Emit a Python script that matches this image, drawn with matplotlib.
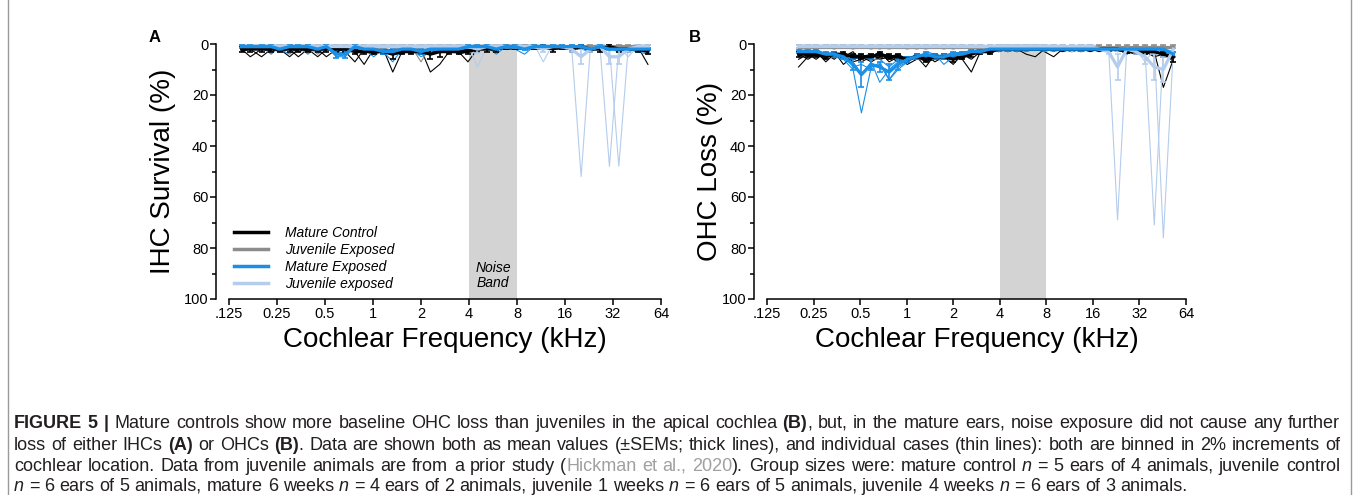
import numpy as np
import matplotlib.pyplot as plt
from matplotlib.lines import Line2D
from matplotlib.font_manager import fontManager, get_font
from matplotlib.backends.backend_agg import get_hinting_flag

plt.rcParams['font.family'] = ['Liberation Sans', 'DejaVu Sans']

# frequency of each 2% bin of cochlear location (kHz)
freq_a = [0.15, 0.17, 0.20, 0.23, 0.26, 0.30, 0.34, 0.39, 0.45, 0.51, 0.59,
          0.67, 0.77, 0.88, 1.01, 1.16, 1.33, 1.52, 1.74, 2.0, 2.29, 2.62,
          3.0, 3.44, 3.94, 4.51, 5.17, 5.93, 6.79, 7.78, 8.92, 10.2, 11.7,
          13.4, 15.4, 17.6, 20.2, 23.1, 26.5, 30.4, 34.8, 39.9, 45.7, 53.0]
freq_b = freq_a[2:]

# ---- A: IHC ----
mc_mean_a = [2, 2, 2, 2, 2, 2, 2, 2, 2, 2, 2, 2, 3, 3, 3, 3, 4, 3, 3, 3, 4, 3,
             3, 3, 3, 2, 2, 2, 1, 1, 1, 1, 1, 2, 1, 2, 1, 2, 2, 1, 2, 2, 2, 3]
mc_sem_a = [1, 1, 1, 1, 1, 1, 1, 1, 1, 1, 1, 1, 1, 1, 1, 1, 2, 1, 1, 1, 2, 2,
            1, 1, 1, 1, 1, 1, 1, 1, 1, 1, 1, 1, 1, 1, 1, 1, 1, 1, 1, 1, 1, 1]
mc_cases_a = [
    [2, 5, 2, 2, 3, 2, 5, 2, 2, 2, 3, 2, 2, 3, 2, 2, 3, 2, 2, 3, 2, 2,
     2, 2, 3, 2, 1, 2, 2, 1, 1, 2, 2, 1, 1, 2, 1, 2, 1, 1, 2, 1, 2, 3],
    [3, 2, 5, 2, 2, 2, 2, 3, 2, 5, 2, 2, 3, 8, 2, 3, 2, 2, 3, 2, 4, 2,
     3, 2, 2, 2, 2, 1, 2, 2, 1, 2, 1, 2, 2, 1, 2, 2, 2, 1, 2, 1, 1, 8],
    [1, 2, 2, 2, 2, 5, 2, 2, 5, 2, 2, 3, 7, 2, 3, 2, 11, 3, 2, 4, 2, 2,
     2, 3, 7, 2, 2, 2, 1, 2, 2, 1, 2, 2, 1, 2, 2, 1, 2, 2, 1, 2, 3, 2],
    [2, 1, 2, 2, 2, 2, 2, 2, 2, 2, 3, 2, 2, 3, 2, 3, 3, 2, 3, 2, 11, 8,
     3, 2, 2, 2, 1, 2, 2, 1, 1, 1, 1, 1, 2, 2, 1, 1, 2, 2, 1, 2, 2, 3],
    [2, 2, 2, 3, 2, 2, 3, 2, 2, 2, 2, 2, 3, 2, 4, 2, 3, 4, 2, 2, 3, 3,
     2, 4, 3, 2, 2, 1, 1, 1, 2, 1, 2, 1, 1, 1, 2, 1, 1, 1, 1, 1, 1, 2],
]
jc_mean_a = [1, 1, 1, 1, 1, 1, 1, 1, 1, 1, 1, 1, 1, 1, 2, 1, 1, 1, 1, 1, 1, 1,
             1, 1, 1, 1, 1, 1, 1, 1, 1, 1, 1, 1, 1, 1, 1, 1, 1, 1, 1, 1, 1, 1]
jc_sem_a = [0.5] * 44
jc_cases_a = [
    [1, 1, 2, 1, 1, 1, 1, 2, 1, 1, 1, 1, 1, 1, 1, 1, 1, 1, 2, 1, 1, 1,
     1, 2, 1, 1, 1, 1, 1, 1, 1, 1, 1, 1, 1, 2, 1, 1, 1, 1, 1, 1, 1, 1],
    [1, 2, 1, 1, 1, 2, 1, 1, 4, 1, 1, 1, 1, 1, 1, 2, 1, 1, 1, 7, 1, 1,
     1, 1, 1, 2, 1, 1, 1, 1, 2, 1, 1, 1, 1, 1, 1, 1, 2, 1, 1, 2, 1, 1],
    [2, 1, 1, 1, 2, 1, 1, 1, 1, 2, 1, 1, 2, 1, 1, 1, 1, 2, 1, 1, 1, 2,
     1, 1, 1, 1, 1, 2, 1, 1, 1, 1, 1, 2, 1, 1, 1, 1, 1, 1, 2, 1, 1, 2],
]
me_mean_a = [1, 1, 1, 1, 2, 1, 1, 1, 2, 1, 4, 4, 1, 2, 2, 3, 3, 2, 2, 3, 2, 2,
             2, 2, 1, 1, 1, 2, 1, 1, 2, 1, 1, 1, 1, 1, 1, 2, 1, 2, 2, 2, 2, 2]
me_sem_a = [0.5, 0.5, 0.5, 0.5, 0.5, 0.5, 0.5, 0.5, 0.5, 0.5, 1.5,
            1.5, 0.5, 0.5, 0.5, 1, 1, 0.5, 0.5, 1, 0.5, 0.5,
            0.5, 0.5, 0.5, 0.5, 0.5, 0.5, 0.5, 0.5, 0.5, 0.5, 0.5,
            0.5, 0.5, 0.5, 0.5, 0.5, 0.5, 0.5, 0.5, 0.5, 0.5, 0.5]
me_cases_a = [
    [1, 1, 1, 4, 1, 1, 1, 4, 1, 1, 5, 4, 1, 2, 2, 3, 7, 2, 2, 3, 2, 1,
     2, 2, 1, 1, 1, 4, 1, 1, 2, 1, 1, 1, 1, 1, 1, 2, 1, 2, 3, 2, 2, 3],
    [2, 1, 1, 1, 2, 4, 1, 1, 2, 1, 5, 5, 1, 2, 5, 2, 4, 2, 4, 2, 2, 3,
     2, 1, 1, 2, 1, 1, 2, 1, 1, 1, 2, 1, 2, 1, 1, 2, 1, 2, 2, 1, 2, 2],
    [1, 2, 1, 1, 3, 1, 1, 2, 2, 1, 4, 3, 2, 2, 2, 3, 3, 2, 2, 5, 3, 2,
     2, 3, 1, 1, 1, 2, 1, 2, 4, 1, 1, 2, 1, 1, 2, 3, 1, 2, 2, 3, 2, 3],
    [1, 1, 2, 1, 2, 1, 2, 1, 3, 2, 3, 4, 2, 1, 3, 2, 3, 3, 2, 3, 2, 2,
     3, 2, 1, 1, 2, 1, 1, 1, 2, 2, 1, 1, 1, 2, 1, 2, 1, 1, 2, 2, 3, 4],
]
je_mean_a = [1, 1, 1, 1, 1, 1, 1, 1, 1, 1, 1, 1, 1, 1, 1, 1, 1, 1, 1, 1, 1, 1,
             1, 1, 1, 2, 1, 1, 1, 1, 1, 1, 2, 1, 1, 2, 5, 2, 1, 5, 5, 2, 1, 1]
je_sem_a = [0.5, 0.5, 0.5, 0.5, 0.5, 0.5, 0.5, 0.5, 0.5, 0.5, 0.5,
            0.5, 0.5, 0.5, 0.5, 0.5, 0.5, 0.5, 0.5, 0.5, 0.5, 0.5,
            0.5, 0.5, 0.5, 1.5, 0.5, 0.5, 0.5, 0.5, 0.5, 0.5, 1,
            0.5, 0.5, 1, 3, 1, 0.5, 3, 3, 1, 0.5, 0.5]
je_cases_a = [
    [0, 0, 1, 0, 0, 1, 0, 0, 1, 0, 0, 1, 0, 1, 0, 0, 1, 0, 1, 0, 0, 1,
     0, 1, 0, 9, 1, 0, 1, 0, 1, 0, 7, 0, 1, 1, 52, 1, 0, 1, 1, 1, 0, 1],
    [1, 0, 0, 1, 0, 0, 1, 0, 0, 1, 0, 0, 1, 0, 0, 1, 0, 0, 1, 0, 1, 0,
     1, 0, 1, 1, 0, 1, 0, 1, 0, 1, 1, 1, 0, 3, 1, 1, 1, 48, 1, 2, 1, 0],
    [0, 1, 0, 0, 1, 0, 0, 1, 0, 0, 1, 0, 0, 1, 0, 1, 0, 1, 0, 0, 1, 0,
     0, 1, 0, 2, 1, 0, 0, 1, 0, 1, 0, 1, 1, 1, 2, 1, 0, 1, 48, 1, 1, 1],
    [1, 1, 0, 1, 0, 1, 1, 0, 1, 1, 0, 1, 0, 1, 1, 0, 1, 0, 1, 1, 0, 1,
     1, 0, 1, 4, 1, 0, 1, 0, 1, 0, 1, 0, 1, 2, 1, 1, 2, 1, 1, 5, 1, 1],
]

# ---- B: OHC ----
mc_mean_b = [4, 4, 4, 5, 4, 4, 5, 5, 5, 4, 5, 5, 6, 5, 6, 5, 5, 6, 5, 4, 3,
             3, 2, 2, 2, 2, 2, 2, 2, 2, 2, 2, 2, 2, 2, 2, 3, 3, 3, 3, 4, 5]
mc_sem_b = [1, 1, 1, 1, 1, 1, 1, 1, 1, 1, 1, 1, 1, 1, 1, 1, 1, 1, 1, 1, 1,
            1, 0.5, 0.5, 0.5, 0.5, 0.5, 0.5, 0.5, 0.5, 0.5, 0.5, 0.5, 0.5,
            0.5, 0.5, 0.5, 1, 1, 1, 1, 2]
mc_cases_b = [
    [9, 5, 4, 6, 3, 8, 5, 4, 6, 3, 6, 4, 7, 5, 9, 4, 5, 8, 4, 6, 3,
     2, 2, 3, 2, 2, 2, 3, 5, 2, 2, 3, 2, 2, 3, 2, 2, 3, 4, 3, 17, 6],
    [6, 4, 6, 3, 5, 4, 7, 6, 4, 6, 5, 7, 5, 6, 4, 7, 5, 4, 6, 11, 3,
     3, 2, 2, 2, 4, 5, 2, 2, 2, 3, 2, 2, 3, 2, 2, 4, 2, 3, 5, 4, 6],
    [3, 5, 3, 7, 4, 5, 3, 7, 5, 3, 7, 5, 6, 4, 7, 5, 6, 4, 3, 3, 4,
     2, 3, 2, 2, 2, 2, 2, 2, 3, 2, 2, 2, 2, 2, 3, 2, 2, 3, 2, 5, 5],
    [5, 3, 5, 4, 6, 3, 6, 5, 7, 5, 4, 6, 8, 6, 5, 4, 6, 5, 6, 3, 2,
     4, 2, 2, 3, 2, 2, 2, 2, 2, 1, 2, 3, 2, 2, 2, 3, 4, 2, 4, 3, 7],
    [4, 6, 4, 5, 3, 6, 4, 5, 4, 6, 5, 4, 6, 5, 7, 6, 4, 6, 5, 4, 3,
     3, 2, 2, 2, 2, 2, 2, 2, 2, 2, 2, 2, 2, 3, 2, 3, 3, 3, 3, 4, 6],
]
jc_mean_b = [1, 1, 1, 1, 1, 1, 1, 1, 1, 1, 1, 1, 1, 1, 1, 1, 1, 1, 1, 1, 1,
             1, 1, 1, 1, 1, 1, 1, 1, 1, 1, 1, 1, 1, 1, 1, 1, 1, 1, 1, 1, 1]
jc_sem_b = [0.5] * 42
jc_cases_b = [
    [1, 1, 2, 1, 1, 1, 1, 1, 2, 1, 1, 1, 1, 1, 2, 1, 1, 1, 1, 1, 1,
     1, 1, 1, 1, 1, 2, 1, 1, 1, 1, 1, 1, 1, 1, 1, 1, 2, 1, 1, 1, 1],
    [2, 1, 1, 1, 2, 1, 1, 1, 1, 1, 2, 1, 1, 2, 1, 1, 1, 2, 1, 1, 1,
     1, 1, 2, 1, 1, 1, 1, 1, 2, 1, 1, 1, 1, 2, 1, 1, 1, 1, 2, 1, 1],
    [1, 2, 1, 1, 1, 1, 2, 1, 1, 2, 1, 1, 2, 1, 1, 1, 2, 1, 1, 1, 2,
     1, 1, 1, 1, 1, 1, 1, 1, 1, 2, 1, 1, 1, 1, 2, 1, 1, 1, 1, 2, 1],
]
me_mean_b = [3, 3, 3, 4, 4, 5, 8, 12, 8, 9, 11, 8, 6, 5, 4, 5, 5, 4, 4, 3, 3,
             2, 2, 2, 2, 2, 2, 2, 2, 2, 2, 2, 2, 2, 2, 2, 2, 2, 2, 2, 2, 4]
me_sem_b = [0.5, 0.5, 0.5, 1, 1, 1, 2, 5, 2, 2, 3, 2, 1, 1, 1, 1, 1, 1, 1,
            0.5, 0.5, 0.5, 0.5, 0.5, 0.5, 0.5, 0.5, 0.5, 0.5, 0.5, 0.5, 0.5,
            0.5, 0.5, 0.5, 0.5, 0.5, 0.5, 0.5, 0.5, 0.5, 1]
me_cases_b = [
    [3, 2, 4, 3, 5, 6, 10, 27, 9, 8, 14, 10, 7, 5, 4, 6, 5, 3, 4, 2, 3,
     2, 2, 3, 2, 2, 2, 1, 2, 2, 1, 2, 1, 2, 2, 1, 2, 1, 2, 2, 2, 3],
    [2, 4, 3, 5, 4, 6, 7, 12, 7, 15, 10, 7, 5, 6, 3, 4, 8, 5, 3, 3, 2,
     3, 2, 1, 2, 3, 2, 2, 2, 1, 2, 2, 2, 1, 2, 2, 3, 2, 2, 1, 3, 4],
    [4, 3, 3, 4, 5, 4, 9, 8, 10, 7, 14, 9, 7, 4, 5, 5, 4, 4, 5, 3, 3,
     2, 2, 2, 3, 2, 1, 2, 3, 2, 2, 3, 2, 2, 1, 2, 2, 2, 1, 2, 2, 5],
    [2, 3, 2, 4, 3, 5, 6, 5, 6, 6, 9, 6, 5, 5, 4, 4, 5, 4, 3, 4, 2,
     2, 3, 2, 2, 2, 2, 3, 2, 2, 3, 2, 2, 2, 2, 2, 1, 2, 2, 2, 2, 4],
]
je_mean_b = [1, 1, 1, 1, 1, 1, 1, 1, 1, 1, 1, 1, 1, 1, 1, 1, 1, 1, 1, 1, 1,
             1, 1, 1, 1, 1, 1, 1, 1, 1, 1, 1, 1, 2, 3, 9, 2, 3, 5, 9, 10, 2]
je_sem_b = [0.5, 0.5, 0.5, 0.5, 0.5, 0.5, 0.5, 0.5, 0.5, 0.5, 0.5, 0.5,
            0.5, 0.5, 0.5, 0.5, 0.5, 0.5, 0.5, 0.5, 0.5, 0.5, 0.5, 0.5,
            0.5, 0.5, 0.5, 0.5, 0.5, 0.5, 0.5, 0.5, 0.5, 0.5, 1, 5, 1, 1,
            3, 5, 5, 1]
je_cases_b = [
    [1, 0, 1, 0, 1, 1, 0, 1, 0, 1, 1, 0, 1, 0, 1, 0, 1, 1, 0, 1, 0,
     1, 1, 0, 1, 0, 1, 1, 0, 2, 1, 0, 1, 1, 1, 69, 1, 1, 2, 1, 2, 1],
    [0, 1, 1, 1, 0, 1, 1, 0, 1, 1, 0, 1, 0, 1, 1, 0, 1, 0, 1, 1, 2,
     0, 1, 1, 0, 1, 0, 1, 1, 0, 3, 1, 1, 2, 3, 1, 1, 2, 3, 71, 1, 2],
    [1, 1, 0, 1, 1, 0, 1, 1, 1, 0, 1, 1, 1, 0, 1, 1, 0, 1, 1, 0, 1,
     1, 0, 1, 1, 1, 0, 1, 2, 1, 1, 1, 0, 1, 1, 2, 1, 1, 1, 1, 76, 2],
    [1, 0, 1, 1, 0, 1, 0, 1, 1, 0, 1, 0, 1, 1, 0, 1, 1, 0, 1, 1, 1,
     2, 1, 0, 1, 1, 1, 0, 1, 1, 1, 1, 1, 1, 2, 3, 1, 2, 7, 2, 3, 1],
]

groups = ['Mature Control', 'Juvenile Exposed', 'Mature Exposed', 'Juvenile exposed']
colors = ['black', '#8c8c8c', '#1a8fe6', '#b4cdec']
octave_ticks = [0.125, 0.25, 0.5, 1, 2, 4, 8, 16, 32, 64]
octave_labels = ['.125', '0.25', '0.5', '1', '2', '4', '8', '16', '32', '64']

W, H = 1358, 495
fig = plt.figure(figsize=(W / 100, H / 100), dpi=100)


def axes_px(x0, x1, ytop, ybot):
    return fig.add_axes([x0 / W, 1 - ybot / H, (x1 - x0) / W, (ybot - ytop) / H])


def draw_panel(ax, f, cases, means, sems, ylabel):
    ax.axvspan(4, 8, color='#d3d3d3', lw=0, zorder=0)
    for rows, c in zip(cases, colors):
        for r in rows:
            ax.plot(f, r, color=c, lw=0.8, zorder=2)
    for i in [1, 0, 3, 2]:
        ax.errorbar(f, means[i], yerr=sems[i], color=colors[i], lw=2.3,
                    elinewidth=1.2, capsize=2.5, capthick=1.2, zorder=3)
    ax.set_xscale('log', base=2)
    ax.set_xlim(0.125, 64)
    ax.set_ylim(100, 0)
    ax.set_xticks(octave_ticks)
    ax.set_xticklabels(octave_labels)
    ax.xaxis.set_minor_locator(plt.NullLocator())
    ax.set_yticks([0, 20, 40, 60, 80, 100])
    ax.set_yticks([10, 30, 50, 70, 90], minor=True)
    for s in ['top', 'right']:
        ax.spines[s].set_visible(False)
    ax.spines['left'].set_position(('outward', 9.4))
    for s in ['left', 'bottom']:
        ax.spines[s].set_linewidth(1.1)
    ax.tick_params(which='major', direction='out', length=4, width=1.1,
                   labelsize=10.5, pad=1.5, colors='black')
    ax.tick_params(which='minor', direction='out', length=3, width=1.1)
    ax.set_xlabel('Cochlear Frequency (kHz)', fontsize=20)
    ax.set_ylabel(ylabel, fontsize=20)
    ax.xaxis.label.set_va('center')
    ax.yaxis.label.set_va('center')


ax_a = axes_px(229, 661, 44, 299)
draw_panel(ax_a, freq_a,
           [mc_cases_a, jc_cases_a, me_cases_a, je_cases_a],
           [mc_mean_a, jc_mean_a, me_mean_a, je_mean_a],
           [mc_sem_a, jc_sem_a, me_sem_a, je_sem_a],
           'IHC Survival (%)')
ax_a.xaxis.set_label_coords(0.5, -0.16)
ax_a.yaxis.set_label_coords(-0.153, 0.5)
ax_a.text(np.sqrt(32), 90.8, 'Noise\nBand', ha='center', va='center',
          style='italic', fontsize=10, linespacing=1.05)
handles = [Line2D([], [], color=c, lw=2.5) for c in colors]
ax_a.legend(handles, groups, loc='lower left', bbox_to_anchor=(0.012, 0.032),
            frameon=False, prop={'style': 'italic', 'size': 10},
            handlelength=2.4, handletextpad=1.25, labelspacing=0.22,
            borderpad=0, borderaxespad=0)

ax_b = axes_px(767, 1186, 44, 299)
draw_panel(ax_b, freq_b,
           [mc_cases_b, jc_cases_b, me_cases_b, je_cases_b],
           [mc_mean_b, jc_mean_b, me_mean_b, je_mean_b],
           [mc_sem_b, jc_sem_b, me_sem_b, je_sem_b],
           'OHC Loss (%)')
ax_b.xaxis.set_label_coords(0.5, -0.16)
ax_b.yaxis.set_label_coords(-0.136, 0.5)

fig.text(155 / W, 1 - 37 / H, 'A', fontsize=12, fontweight='bold', ha='center', va='center')
fig.text(695 / W, 1 - 37 / H, 'B', fontsize=12, fontweight='bold', ha='center', va='center')

# frame round figure and legend text
for x in [8, 1351]:
    fig.add_artist(Line2D([x / W, x / W], [0, 1], color='#9a9a9a', lw=1))

caption = [
    "*FIGURE 5 |* Mature controls show more baseline OHC loss than juveniles in the apical cochlea *(B)*, but, in the mature ears, noise exposure did not cause any further",
    "loss of either IHCs *(A)* or OHCs *(B)*. Data are shown both as mean values (±SEMs; thick lines), and individual cases (thin lines): both are binned in 2% increments of",
    "cochlear location. Data from juvenile animals are from a prior study (~Hickman et al., 2020~). Group sizes were: mature control _n_ = 5 ears of 4 animals, juvenile control",
    "_n_ = 6 ears of 5 animals, mature 6 weeks _n_ = 4 ears of 2 animals, juvenile 1 weeks _n_ = 6 ears of 5 animals, juvenile 4 weeks _n_ = 6 ears of 3 animals.",
]
baselines = [428, 450, 471, 491]
cap_size = 13
renderer = fig.canvas.get_renderer()


def cap_text(s, st):
    return fig.text(0, 0, s, fontsize=cap_size, va='baseline',
                    fontweight='bold' if st['*'] else 'normal',
                    style='italic' if st['_'] else 'normal',
                    color='#a0a0a0' if st['~'] else '#231f20')


def pixel_nudge(t):
    # Agg snaps each string's bitmap to whole pixels from its own bounding box;
    # work out that offset so every word sits on the same baseline row
    fp = t.get_fontproperties()
    font = get_font(fontManager._find_fonts_by_props(fp))
    font.clear()
    font.set_size(fp.get_size_in_points(), fig.dpi)
    font.set_text(t.get_text(), 0, flags=get_hinting_flag())
    h26 = font.get_width_height()[1]
    d26 = font.get_descent()
    return h26 // 64 - (h26 - d26) // 64 - d26 / 64


state = {'*': False, '~': False, '_': False}
probe1 = cap_text('a a', state)
probe2 = cap_text('aa', state)
space_w = probe1.get_window_extent(renderer).width - probe2.get_window_extent(renderer).width
probe1.remove()
probe2.remove()

for n, (line, yb) in enumerate(zip(caption, baselines)):
    words = []
    for w in line.split(' '):
        pieces, buf = [], ''
        for ch in w:
            if ch in state:
                if buf:
                    pieces.append(cap_text(buf, dict(state)))
                buf = ''
                state[ch] = not state[ch]
            else:
                buf += ch
        if buf:
            pieces.append(cap_text(buf, dict(state)))
        widths = [t.get_window_extent(renderer).width for t in pieces]
        words.append((pieces, widths))
    total = sum(sum(ws) for _, ws in words)
    if n < len(caption) - 1:
        gap = (1340 - 14 - total) / (len(words) - 1)
    else:
        gap = space_w
    x = 14
    for pieces, ws in words:
        for t, wpx in zip(pieces, ws):
            t.set_position((x / W, 1 - (yb + pixel_nudge(t)) / H))
            x += wpx
        x += gap

fig.savefig('out.png', dpi=100)
